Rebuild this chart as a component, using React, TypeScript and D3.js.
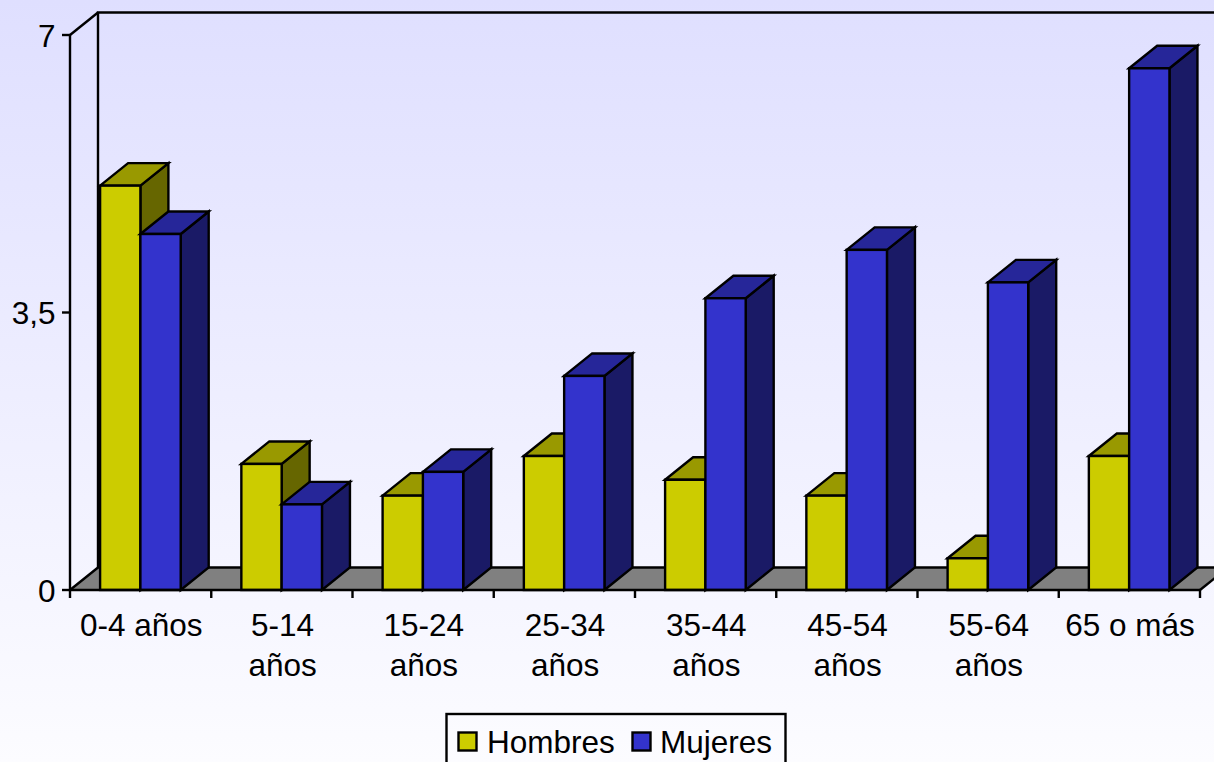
import React from "react";
import * as d3 from "d3";

const categories = [["0-4 años"], ["5-14", "años"], ["15-24", "años"], ["25-34", "años"], ["35-44", "años"], ["45-54", "años"], ["55-64", "años"], ["65 o más"]];
const hombres = [5.1, 1.59, 1.19, 1.69, 1.39, 1.19, 0.4, 1.69];
const mujeres = [4.49, 1.08, 1.49, 2.7, 3.68, 4.29, 3.88, 6.58];
const yTicks = [0, 3.5, 7];
const yTickLabels = ["0", "3,5", "7"];

const W = 1214, H = 762;
const dx = 28, dy = -22.5;
const FONT = "'Liberation Sans', Arial, sans-serif";
const FS = 31.5;
const SW = 2.4;

const x = d3.scaleLinear().domain([0, 8]).range([70, 1200]);
const y = d3.scaleLinear().domain([0, 7]).range([590, 35]);

const pts = (p: number[][]) => p.map((q) => q.join(",")).join(" ");

function Bar({ x0, w, v, front, top, side }: { x0: number; w: number; v: number; front: string; top: string; side: string }) {
  const y0 = y(0), yt = y(v), x1 = x0 + w;
  const s = { stroke: "#000", strokeWidth: SW, strokeLinejoin: "miter" as const };
  return (
    <g>
      <polygon points={pts([[x1, y0], [x1 + dx, y0 + dy], [x1 + dx, yt + dy], [x1, yt]])} fill={side} {...s} />
      <polygon points={pts([[x0, yt], [x0 + dx, yt + dy], [x1 + dx, yt + dy], [x1, yt]])} fill={top} {...s} />
      <rect x={x0} y={yt} width={w} height={y0 - yt} fill={front} {...s} />
    </g>
  );
}

export default function App() {
  const band = x(1) - x(0);
  const off = 30.1, bw = 40.3;
  return (
    <svg width={W} height={H} viewBox={`0 0 ${W} ${H}`} style={{ position: "fixed", left: 0, top: 0, display: "block" }} fontFamily={FONT}>
      <defs>
        <linearGradient id="bg" x1="0" y1="0" x2="0" y2="1">
          <stop offset="0" stopColor="#DFDFFF" />
          <stop offset="1" stopColor="#FCFCFF" />
        </linearGradient>
      </defs>
      <rect width={W} height={H} fill="url(#bg)" />

      <polygon points={pts([[x(0), y(0)], [x(0) + dx, y(0) + dy], [x(8) + dx, y(0) + dy], [x(8), y(0)]])} fill="#808080" />
      <path d={`M${x(0) + dx},${y(0) + dy}V${y(7) + dy}H${W + 5}`} fill="none" stroke="#000" strokeWidth={SW} />
      <path d={`M${x(0)},${y(0)}L${x(0) + dx},${y(0) + dy}H${W + 5}`} fill="none" stroke="#000" strokeWidth={SW} />
      <path d={`M${x(0)},${y(7)}L${x(0) + dx},${y(7) + dy}`} fill="none" stroke="#000" strokeWidth={SW} />
      <path d={`M${x(8)},${y(0)}L${x(8) + dx},${y(0) + dy}`} fill="none" stroke="#000" strokeWidth={SW} />

      {categories.map((_, i) => (
        <g key={i}>
          <Bar x0={x(i) + off} w={bw} v={hombres[i]} front="#CCCC00" top="#999900" side="#666600" />
          <Bar x0={x(i) + off + bw} w={bw} v={mujeres[i]} front="#3333CC" top="#262699" side="#1A1A66" />
        </g>
      ))}

      <path d={`M${x(0)},${y(7)}V${y(0)}H${x(8)}`} fill="none" stroke="#000" strokeWidth={SW} />
      {yTicks.map((t, i) => (
        <g key={t}>
          <line x1={x(0) - 8} x2={x(0)} y1={y(t)} y2={y(t)} stroke="#000" strokeWidth={SW} />
          <text x={55.5} y={y(t) + 11.5} textAnchor="end" fontSize={FS} fill="#000">{yTickLabels[i]}</text>
        </g>
      ))}
      {d3.range(9).map((i) => (
        <line key={i} x1={x(i)} x2={x(i)} y1={y(0)} y2={y(0) + 8} stroke="#000" strokeWidth={SW} />
      ))}
      {categories.map((lines, i) =>
        lines.map((l, j) => (
          <text key={j} x={x(i) + band / 2 + 0.7} y={636 + j * 40} textAnchor="middle" fontSize={FS} fill="#000">{l}</text>
        ))
      )}

      <rect x={446.5} y={714} width={339} height={60} fill="none" stroke="#000" strokeWidth={SW} />
      <rect x={458.5} y={732.5} width={18} height={18} fill="#CCCC00" stroke="#000" strokeWidth={SW} />
      <text x={487} y={753} fontSize={FS} fill="#000">Hombres</text>
      <rect x={632.5} y={732.5} width={18} height={18} fill="#3333CC" stroke="#000" strokeWidth={SW} />
      <text x={660} y={753} fontSize={FS} fill="#000">Mujeres</text>
    </svg>
  );
}
